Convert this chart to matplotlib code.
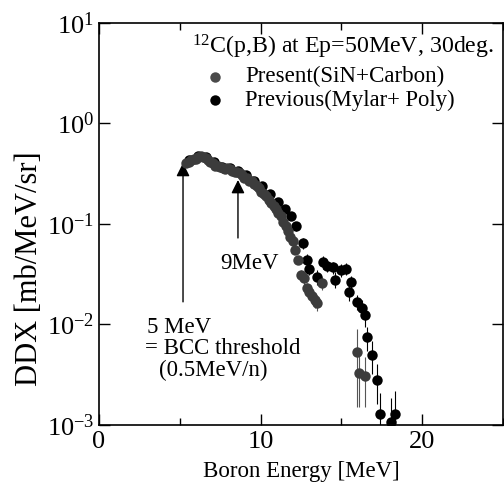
import matplotlib
matplotlib.use("Agg")
import matplotlib.pyplot as plt
from matplotlib.ticker import NullLocator, MultipleLocator, LogFormatterMathtext

plt.rcParams['font.family'] = ['Liberation Serif', 'DejaVu Serif']
plt.rcParams['mathtext.fontset'] = 'custom'
plt.rcParams['mathtext.rm'] = 'Liberation Serif'
plt.rcParams['mathtext.it'] = 'Liberation Serif:italic'

# Present (SiN+Carbon)
present_e = [5.4, 5.55, 5.7, 5.85, 6.0, 6.15, 6.3, 6.45, 6.6, 6.75, 6.9, 7.05, 7.2, 7.35,
             7.5, 7.65, 7.8, 7.95, 8.1, 8.25, 8.4, 8.55, 8.7, 8.85, 9.0, 9.15, 9.3, 9.45,
             9.6, 9.75, 9.9, 10.05, 10.2, 10.35, 10.5, 10.65, 10.8, 10.95, 11.1, 11.25,
             11.4, 11.55, 11.7, 11.85, 12.0, 12.15, 12.3, 12.5, 12.7, 12.85, 13.0, 13.2,
             13.35, 13.5, 13.8, 15.95, 16.1, 16.45]
present_v = [0.40, 0.41, 0.43, 0.44, 0.44, 0.46, 0.47, 0.46, 0.45, 0.43, 0.41, 0.40, 0.38, 0.38,
             0.37, 0.36, 0.35, 0.36, 0.35, 0.34, 0.33, 0.33, 0.32, 0.31, 0.29, 0.29, 0.27, 0.27,
             0.25, 0.24, 0.23, 0.21, 0.20, 0.19, 0.175, 0.16, 0.15, 0.14, 0.13, 0.12,
             0.105, 0.095, 0.085, 0.075, 0.068, 0.055, 0.044, 0.031, 0.029, 0.023, 0.021, 0.019,
             0.0175, 0.0165, 0.026, 0.0053, 0.0033, 0.0031]
present_err = [0.02, 0.02, 0.02, 0.02, 0.02, 0.02, 0.02, 0.02, 0.02, 0.02, 0.02, 0.02, 0.02, 0.02,
               0.02, 0.02, 0.02, 0.02, 0.02, 0.02, 0.02, 0.02, 0.02, 0.02, 0.015, 0.015, 0.015, 0.015,
               0.015, 0.015, 0.015, 0.012, 0.012, 0.012, 0.01, 0.01, 0.01, 0.01, 0.008, 0.008,
               0.007, 0.007, 0.006, 0.006, 0.005, 0.005, 0.004, 0.004, 0.004, 0.003, 0.003, 0.003,
               0.003, 0.003, 0.004, 0.0038, 0.0018, 0.0016]

# Previous (Mylar+ Poly)
previous_e = [5.6, 6.1, 6.6, 7.1, 7.6, 8.1, 8.6, 9.1, 9.6, 10.1, 10.6, 11.1, 11.5, 11.9, 12.2,
              12.6, 12.85, 13.0, 13.5, 13.85, 14.1, 14.45, 14.6, 15.0, 15.3, 15.5, 15.6, 15.95,
              16.25, 16.45, 16.6, 16.9, 17.2, 17.4, 18.1, 18.3]
previous_v = [0.43, 0.47, 0.46, 0.41, 0.37, 0.36, 0.34, 0.31, 0.27, 0.24, 0.20, 0.165, 0.14, 0.12,
              0.095, 0.065, 0.044, 0.036, 0.030, 0.042, 0.038, 0.037, 0.028, 0.035, 0.036, 0.021,
              0.0265, 0.0168, 0.0146, 0.0124, 0.0075, 0.0050, 0.0028, 0.0013, 0.00107, 0.0013]
previous_err = [0.02, 0.02, 0.02, 0.02, 0.02, 0.02, 0.02, 0.02, 0.02, 0.02, 0.015, 0.015, 0.012,
                0.01, 0.01, 0.008, 0.006, 0.005, 0.005, 0.006, 0.005, 0.005, 0.005, 0.005, 0.005,
                0.004, 0.004, 0.003, 0.003, 0.003, 0.002, 0.0018, 0.0012, 0.0008, 0.0008, 0.0009]

x_ticks = [0, 10, 20]
y_ticks = [1e-3, 1e-2, 1e-1, 1e0, 1e1]

fig = plt.figure(figsize=(5.04, 4.88), dpi=100)
ax = fig.add_axes([0.1964, 0.1291, 0.8016, 0.8238])

ax.errorbar(previous_e, previous_v, yerr=previous_err, fmt='o', color='black',
            ms=7.5, mew=0, elinewidth=0.8, capsize=4, capthick=0.8, zorder=3)
ax.errorbar(present_e, present_v, yerr=present_err, fmt='o', color='#3c3c3c',
            ecolor='#555555', ms=7.5, mew=0, elinewidth=0.8, capsize=4, capthick=0.8, zorder=3)

ax.set_yscale('log')
ax.set_xlim(0, 25)
ax.set_ylim(1e-3, 1e1)
ax.set_xticks(x_ticks)
ax.xaxis.set_minor_locator(MultipleLocator(5))
ax.set_yticks(y_ticks)
ax.yaxis.set_major_formatter(LogFormatterMathtext())
ax.yaxis.set_minor_locator(NullLocator())
ax.tick_params(which='both', direction='in', top=True, right=True, labelsize=19, width=1)
ax.tick_params(which='major', length=8)
ax.tick_params(which='minor', length=5)
ax.tick_params(axis='x', pad=4)
for s in ax.spines.values():
    s.set_linewidth(1.2)

ax.set_xlabel('Boron Energy [MeV]', fontsize=16.5, labelpad=6)
ax.set_ylabel('DDX [mb/MeV/sr]', fontsize=22)
ax.yaxis.set_label_coords(-0.137, 0.39)

# legend-like annotation
ax.text(0.230, 0.940, r'$^{12}$C(p,B) at Ep=50MeV, 30deg.', transform=ax.transAxes,
        fontsize=17.2, ha='left', va='center')
ax.plot([0.287], [0.866], 'o', color='#4a4a4a', ms=7.5, mew=0, transform=ax.transAxes)
ax.text(0.361, 0.868, 'Present(SiN+Carbon)', transform=ax.transAxes, fontsize=16.6,
        ha='left', va='center')
ax.plot([0.287], [0.808], 'o', color='black', ms=7.5, mew=0, transform=ax.transAxes)
ax.text(0.361, 0.808, 'Previous(Mylar+ Poly)', transform=ax.transAxes, fontsize=16.3,
        ha='left', va='center')

arrow = dict(arrowstyle='-|>', color='black', lw=1.0, mutation_scale=20, shrinkA=0, shrinkB=0)
ax.annotate('', xy=(5.2, 0.405), xytext=(5.2, 0.0168), arrowprops=arrow)
ax.annotate('', xy=(8.6, 0.274), xytext=(8.6, 0.0726), arrowprops=arrow)

ax.text(7.49, 0.0409, '9MeV', fontsize=16.5, ha='left', va='center')
ax.text(2.97, 0.00944, '5 MeV', fontsize=16.5, ha='left', va='center')
ax.text(2.85, 0.00583, '= BCC threshold', fontsize=16.5, ha='left', va='center')
ax.text(3.71, 0.00352, '(0.5MeV/n)', fontsize=16.5, ha='left', va='center')

fig.savefig('out.png', dpi=100)
